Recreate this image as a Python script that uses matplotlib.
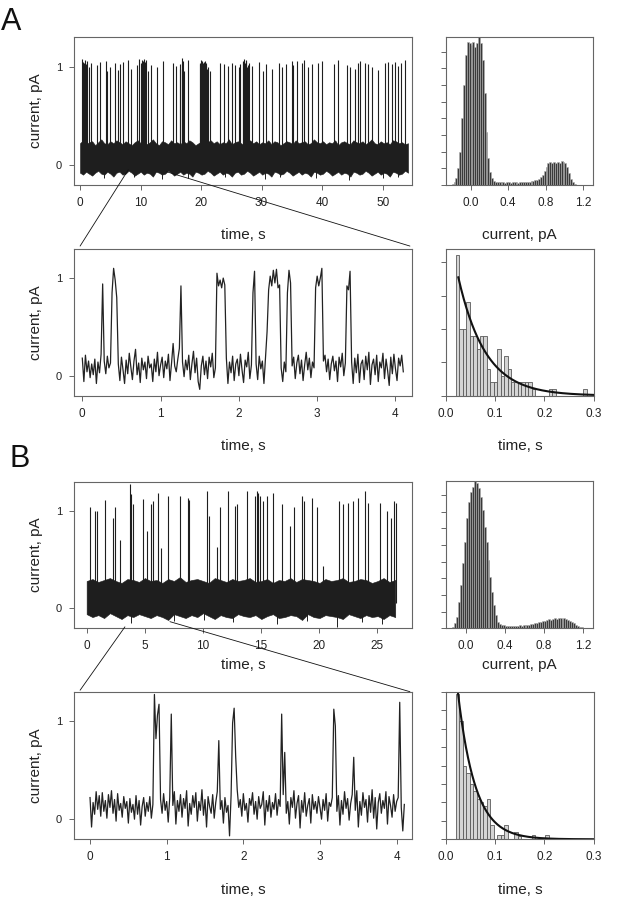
import numpy as np
import matplotlib.pyplot as plt
from matplotlib.patches import ConnectionPatch

plt.rcParams['font.family'] = ['Liberation Sans', 'DejaVu Sans']

# ---------------- data ----------------
# zoomed 4 s traces, one sample every 20 ms, values in 0.01 pA
trace_dt = 0.02
traceA_zoom = [18, -6, 21, 4, 15, -2, 12, 1, 17, -8,
               14, 3, 22, 94, 15, 2, 20, 8, 13, 85,
               110, 98, 80, 12, -5, 19, 6, -8, 16, 2,
               23, 9, -4, 15, 27, 1, 13, -7, 18, 6,
               14, -3, 20, 8, 12, -6, 17, 4, 24, 0,
               11, 19, -2, 15, 7, 22, -5, 13, 33, 10,
               4, 17, 28, 92, 14, -1, 16, 6, 21, -4,
               12, 25, 3, 18, -6, -14, 10, 20, 1, 15,
               -3, 19, 9, 23, -2, 8, 105, 92, 98, 90,
               100, 93, 18, -8, 14, 3, 20, -5, 12, 17,
               0, 22, 6, -7, 16, 9, 24, -3, 11, 85,
               107, 12, -4, 20, 7, 15, -8, 18, 45, 88,
               102, 92, 108, 95, 109, 90, 93, 8, -6, 14,
               4, 85, 108, 95, 10, 19, -3, 13, 21, 2,
               16, -5, 11, 24, 6, 18, -2, 14, 8, 90,
               102, 92, 100, 110, 15, 21, 4, 17, -4, 12,
               20, 5, 15, -6, 19, 9, 23, 0, 13, 92,
               88, 107, 14, -8, 18, 3, 22, -7, 12, 16,
               -4, 20, 6, 24, -9, 11, 17, 1, 21, -6,
               14, 8, 23, -3, 17, 5, -10, 19, 2, 22,
               7, -5, 18, 10, 21, 4]
traceB_zoom = [22, -8, 17, 5, 28, 10, 24, 3, 27, 8,
               19, 1, 25, 12, 29, 6, 20, -2, 26, 9,
               16, 2, 23, 11, 18, -4, 21, 7, 15, 0,
               24, 5, 19, -6, 13, 22, 3, 17, 8, 23,
               1, 15, 127, 82, 106, 117, 20, 6, 26, 9,
               18, -3, 22, 107, 14, 28, -5, 19, 8, 25,
               2, 21, 11, 29, -7, 16, 5, 24, 12, 27,
               -2, 18, 9, 30, 4, 20, -8, 23, 13, 6,
               25, 1, 17, 28, 80, 10, 19, -4, 22, 7,
               14, -17, 24, 98, 113, 64, 30, 12, 20, 3,
               26, 9, 16, -3, 21, 14, 27, 5, 18, 0,
               23, 11, 15, 28, -6, 19, 8, 24, 2, 17,
               10, 26, 4, 20, 13, 107, 25, 68, 6, 18,
               -5, 22, 12, 29, 1, 16, 24, -9, 19, 7,
               27, 3, 14, 21, -4, 25, 10, 18, 6, 23,
               12, 0, 20, 9, 26, -2, 17, 13, 22, 112,
               95, 8, 24, -6, 19, 5, 28, 11, 21, -1,
               16, 25, 63, 9, 29, -8, 18, 4, 27, 12,
               20, -3, 24, 7, 30, 1, 22, -10, 17, 26,
               6, 19, 11, 28, -5, 23, 14, 2, 25, 8,
               18, 22, 119, 12, -12, 15]

# long records: closed-level noise band (upper/lower edge every 0.5 s, 0.01 pA) + openings
durA = 54.2
bandA_hi = [22,25,21,23,24,20,23,26,22,21, 24,22,25,23,21,24,22,20,23,25,
            22,24,21,23,26,22,20,24,23,21, 25,22,23,21,24,22,25,23,20,22,
            24,21,23,25,22,24,21,23,22,26, 21,23,24,22,20,23,25,22,24,21,
            23,22,25,21,24,23,20,22,24,23, 21,25,22,23,24,21,22,26,23,22,
            24,21,23,22,25,20,23,24,22,21, 25,23,22,24,21,23,26,22,21,24,
            22,23,21,25,24,22,23,21,22]
bandA_lo = [-8,-10,-7,-9,-11,-8,-6,-9,-10,-7, -9,-12,-8,-7,-10,-9,-6,-8,-11,-9,
            -7,-10,-8,-9,-12,-7,-8,-10,-9,-6, -8,-11,-9,-7,-10,-8,-9,-12,-7,-8,
            -10,-9,-6,-8,-11,-9,-7,-10,-8,-9, -12,-8,-7,-10,-9,-6,-8,-11,-9,-7,
            -10,-8,-9,-12,-7,-8,-10,-9,-6,-8, -11,-9,-7,-10,-8,-9,-12,-7,-8,-10,
            -9,-6,-8,-11,-9,-7,-10,-8,-9,-12, -7,-8,-10,-9,-6,-8,-11,-9,-7,-10,
            -8,-9,-12,-7,-8,-10,-9,-6,-8]
openA_t = [0.3,0.5,0.65,0.8,1.0,1.2,1.5,1.9,
           2.75,3.3,4.3,4.5,4.95,5.8,6.2,6.6,7.05,7.9,
           8.5,9.5,9.8,10.0,10.2,10.35,10.5,10.6,10.75,10.9,
           11.3,11.8,12.7,13.7,15.4,15.9,16.5,16.6,16.8,16.9,
           17.0,17.2,17.9,19.8,19.9,20.0,20.1,20.2,20.3,20.4,
           20.5,20.6,20.7,20.8,20.9,21.0,21.2,21.5,23.1,23.8,
           24.5,25.1,25.6,26.2,26.5,26.9,27.0,27.1,27.2,27.3,
           27.4,27.5,27.6,27.8,28.0,28.4,29.5,30.3,30.8,31.7,
           32.8,33.3,34.1,35.0,35.2,35.8,36.6,37.0,37.7,38.3,
           39.4,39.9,41.9,42.7,44.1,44.6,45.4,46.0,46.3,47.1,
           47.6,48.2,49.3,50.4,50.9,51.5,52.0,52.6,53.1,53.7]
openA_peak = [108,105,104,107,103,106,100,104,
              102,105,106,95,100,104,97,103,105,107,
              98,102,108,104,107,106,108,103,105,107,
              96,102,100,106,104,101,103,98,109,104,
              106,95,107,104,103,107,105,106,104,102,
              105,103,106,104,102,98,100,96,104,103,
              101,104,102,100,103,106,105,108,104,97,
              107,106,100,102,104,101,105,95,103,98,
              104,100,103,106,102,106,104,107,100,103,
              104,106,103,107,102,100,98,104,106,104,
              103,100,97,104,105,103,105,101,104,107]
dipA_t = [4.0, 9.0, 13.5, 17.8, 24.0, 30.5, 33.0, 39.0, 44.5, 50.0, 52.5]
dipA_v = [-13, -12, -14, -13, -12, -14, -12, -13, -15, -13, -12]

durB = 26.6
bandB_hi = [28,30,27,29,31,28,26,30,29,27, 31,28,29,26,30,28,32,27,29,30,
            28,26,31,29,27,30,28,29,31,27, 28,30,26,29,28,31,27,30,29,28,
            26,30,28,29,31,27,28,30,29,26, 28,31,27,29]
bandB_lo = [-6,-9,-7,-10,-5,-8,-11,-7,-9,-6, -8,-10,-7,-9,-12,-6,-8,-10,-7,-9,
            -5,-8,-11,-7,-9,-10,-6,-8,-9,-7, -11,-8,-6,-10,-9,-7,-8,-12,-6,-9,
            -10,-7,-8,-9,-11,-6,-8,-10,-7,-9, -8,-11,-7,-9]
openB_t = [0.29,0.75,0.86,1.58,2.3,2.44,2.87,3.74,3.82,4.0,
           4.83,5.17,5.52,5.69,6.18,6.38,7.04,8.05,8.76,8.85,
           10.34,10.55,11.26,11.5,12.2,12.8,13.0,13.85,14.5,14.66,
           14.8,14.94,15.23,15.52,16.1,16.8,17.53,17.9,18.53,18.7,
           19.4,19.83,20.34,21.75,22.1,22.56,22.99,23.42,24.0,24.28,
           25.3,25.86,26.2,26.5,26.67]
openB_peak = [104,100,100,111,93,104,70,127,117,107,
              112,79,107,110,118,62,115,115,113,111,
              120,95,63,104,120,105,107,120,115,120,
              118,115,110,115,118,107,84,104,115,110,
              113,104,43,110,107,108,110,113,120,108,
              108,100,93,110,108]
dipB_t = [3.8, 7.5, 10.1, 12.6, 16.4, 19.0, 21.6, 23.7, 25.5]
dipB_v = [-15, -13, -12, -14, -16, -13, -19, -14, -16]

# amplitude histograms (arbitrary count units), 0.02 pA bins
ampA_start = -0.20
ampA_counts = [0.05,0.15,0.4,1.0,2.0,4.0,6.0,7.8,8.6,8.5,
               8.4,8.6,8.3,8.5,8.86,8.5,7.5,5.5,3.2,1.6,
               0.8,0.4,0.25,0.2,0.18,0.16,0.17,0.15,0.14,0.16,
               0.15,0.14,0.15,0.16,0.15,0.14,0.16,0.17,0.18,0.17,
               0.19,0.2,0.22,0.25,0.28,0.32,0.38,0.45,0.6,0.85,
               1.1,1.3,1.35,1.3,1.38,1.3,1.4,1.3,1.42,1.35,
               1.3,1.1,0.7,0.35,0.15,0.05,0.02,0,0,0]
ampB_start = -0.16
ampB_counts = [0.02,0.1,0.3,0.7,1.6,2.6,3.9,5.2,6.6,7.6,
               8.2,8.5,8.86,8.7,8.4,7.9,7.1,6.1,5.2,4.1,
               3.1,2.2,1.4,0.8,0.4,0.25,0.2,0.17,0.15,0.16,
               0.14,0.15,0.13,0.16,0.15,0.17,0.16,0.18,0.2,0.19,
               0.22,0.24,0.27,0.3,0.32,0.35,0.38,0.42,0.45,0.5,
               0.55,0.52,0.58,0.6,0.57,0.62,0.6,0.58,0.61,0.58,
               0.52,0.45,0.4,0.32,0.22,0.15,0.1,0.05,0.03,0.01]
amp_bin = 0.02

# open dwell-time histograms, 7 ms bins from 20 ms
dwell_start = 0.02
dwell_bin = 0.007
dwellA_counts = [4.22,2.0,2.0,2.8,1.8,1.8,1.4,1.8,1.8,0.8,
                 0.4,0.4,1.4,0.6,1.2,0.8,0.4,0.4,0.4,0.4,
                 0.4,0.4,0.2,0,0,0,0,0.2,0.2,0,
                 0,0,0,0,0,0,0,0.2,0,0]
dwellB_counts = [7.9,6.4,4.0,3.6,3.0,2.6,2.2,2.0,1.8,2.2,
                 0.8,0,0.25,0.25,0.8,0,0,0.4,0.2,0,
                 0,0,0.25,0,0,0,0.25,0,0,0,
                 0,0,0,0,0,0,0,0,0,0]
# single exponential fits: (amplitude at t0, t0, tau)
fitA = (3.55, 0.025, 0.055)
fitB = (8.0, 0.024, 0.035)

# ---------------- figure ----------------
W, H = 623, 900
fig = plt.figure(figsize=(W / 100, H / 100), dpi=100)

def px_axes(l, t, r, b):
    return fig.add_axes([l / W, 1 - b / H, (r - l) / W, (b - t) / H])

GRAY = '#666666'
INK = '#1e1e1e'

def style(ax):
    for s in ax.spines.values():
        s.set_color(GRAY)
        s.set_linewidth(0.8)
    ax.tick_params(direction='out', length=3.6, width=0.7, color=GRAY,
                   labelsize=8.5, labelcolor='#222222', pad=5)

def trace_axes(ax, xlim, xticks, lpad):
    style(ax)
    ax.set_xlim(*xlim)
    ax.set_ylim(-0.205, 1.298)
    ax.set_xticks(xticks)
    ax.set_yticks([0, 1])
    ax.set_yticklabels(['0', '1'], fontsize=8)
    ax.set_xlabel('time, s', fontsize=11, labelpad=lpad, color='#222222')
    ax.set_ylabel('current, pA', fontsize=11, labelpad=9, color='#222222')

def long_trace(ax, dur, hi, lo, ot, op, dt_, dv):
    tb = np.linspace(0, dur, len(hi))
    ax.fill_between(tb, np.array(lo) / 100, np.array(hi) / 100, color=INK, lw=0.4,
                    edgecolor=INK)
    ax.vlines(ot, 0.05, np.array(op) / 100, color=INK, lw=0.8)
    ax.vlines(dt_, np.array(dv) / 100, 0.0, color=INK, lw=0.7)

def zoom_trace(ax, vals):
    v = np.array(vals) / 100
    t = np.arange(len(v)) * trace_dt
    ax.plot(t, v, color='#222222', lw=0.9)

def amp_hist(ax, start, counts, xlim, lpad):
    style(ax)
    edges = start + amp_bin * np.arange(len(counts))
    ax.bar(edges, counts, width=amp_bin, align='edge', color='#3a3a3a',
           edgecolor='#b0b0b0', linewidth=0.4)
    ax.set_xlim(*xlim)
    ax.set_ylim(0, max(counts))
    ax.set_xticks([0.0, 0.4, 0.8, 1.2])
    ax.set_xticklabels(['0.0', '0.4', '0.8', '1.2'])
    ax.set_yticks(np.arange(0, 9))
    ax.set_yticklabels([])
    ax.set_xlabel('current, pA', fontsize=11, labelpad=lpad, color='#222222')

def dwell_hist(ax, counts, fit, ytop, lpad):
    style(ax)
    edges = dwell_start + dwell_bin * np.arange(len(counts))
    ax.bar(edges, counts, width=dwell_bin, align='edge', color='#d4d4d4',
           edgecolor='#5a5a5a', linewidth=0.6)
    a, t0, tau = fit
    tt = np.linspace(t0, 0.3, 200)
    ax.plot(tt, a * np.exp(-(tt - t0) / tau), color='#111111', lw=1.5)
    ax.set_xlim(0, 0.3)
    ax.set_ylim(0, ytop)
    ax.set_xticks([0.0, 0.1, 0.2, 0.3])
    ax.set_xticklabels(['0.0', '0.1', '0.2', '0.3'])
    ax.set_yticks(np.arange(0, int(ytop) + 1))
    ax.set_yticklabels([])
    ax.set_xlabel('time, s', fontsize=11, labelpad=lpad, color='#222222')

# panel A
axA1 = px_axes(74, 37.3, 412.3, 185)
long_trace(axA1, durA, bandA_hi, bandA_lo, openA_t, openA_peak, dipA_t, dipA_v)
trace_axes(axA1, (-0.99, 54.9), [0, 10, 20, 30, 40, 50], 14)

axA2 = px_axes(446.3, 37.3, 593.3, 185)
amp_hist(axA2, ampA_start, ampA_counts, (-0.258, 1.308), 14)

axA3 = px_axes(74, 249, 412.3, 395.7)
zoom_trace(axA3, traceA_zoom)
trace_axes(axA3, (-0.106, 4.215), [0, 1, 2, 3, 4], 14)

axA4 = px_axes(446, 249, 593.7, 395.7)
dwell_hist(axA4, dwellA_counts, fitA, 4.4, 14)

# panel B
axB1 = px_axes(74, 481.7, 412.3, 628.3)
long_trace(axB1, durB, bandB_hi, bandB_lo, openB_t, openB_peak, dipB_t, dipB_v)
trace_axes(axB1, (-1.09, 28.07), [0, 5, 10, 15, 20, 25], 4)

axB2 = px_axes(446, 480.7, 593.3, 628.3)
amp_hist(axB2, ampB_start, ampB_counts, (-0.206, 1.306), 4)

axB3 = px_axes(74, 691.7, 412.3, 839.3)
zoom_trace(axB3, traceB_zoom)
trace_axes(axB3, (-0.209, 4.204), [0, 1, 2, 3, 4], 14)

axB4 = px_axes(446, 691.7, 593.7, 839.3)
dwell_hist(axB4, dwellB_counts, fitB, 8.0, 14)

# zoom connectors
for top, bot, pts in [(axA1, axA3, [((7.98, -0.05), (0.018, 1.02)), ((14.3, -0.07), (0.993, 1.02))]),
                      (axB1, axB3, [((3.3, -0.19), (0.018, 1.01)), ((7.18, -0.137), (0.993, 1.0))])]:
    for pa, pb in pts:
        con = ConnectionPatch(xyA=pa, coordsA=top.transData, xyB=pb, coordsB=bot.transAxes,
                              color='#111111', lw=0.6)
        fig.add_artist(con)

fig.text(1 / W, 1 - 30 / H, 'A', fontsize=22, color='#111111')
fig.text(9 / W, 1 - 467 / H, 'B', fontsize=22, color='#111111')

fig.savefig('out.png', dpi=100)
